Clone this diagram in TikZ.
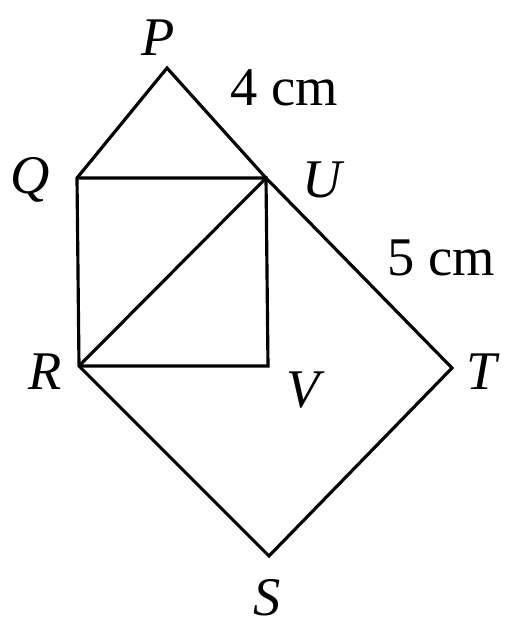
\documentclass[tikz,border=0pt]{standalone}
\usepackage{fontspec}
\setmainfont{Liberation Serif}
\usepackage{tikz}

\tikzset{
    side/.style={line width=1.8pt, line join=miter},
    vlabel/.style={font=\fontsize{31}{32}\selectfont\itshape, inner sep=0pt},
    lenlabel/.style={font=\fontsize{31}{32}\selectfont, inner sep=0pt}
}

\begin{document}
\begin{tikzpicture}[x=0.02cm, y=-0.02cm]
    \useasboundingbox (0,0) rectangle (513,626);

    % Vertices
    \coordinate (P) at (167,68);
    \coordinate (Q) at (77,178);
    \coordinate (U) at (266,178);
    \coordinate (R) at (79,366);
    \coordinate (V) at (268,366);
    \coordinate (T) at (452,368);
    \coordinate (S) at (269,556);

    % Sides
    \draw[side] (Q) -- (P) -- (U) -- (T) -- (S) -- (R) -- cycle;
    \draw[side] (Q) -- (U) -- (V) -- (R);
    \draw[side] (R) -- (U);

    % Labels
    \node[vlabel] (lP) at (158,38) {P};
    \node[vlabel] (lQ) at (30,180) {Q};
    \node[vlabel] (lU) at (322,180) {U};
    \node[vlabel] (lR) at (45,372) {R};
    \node[vlabel] (lV) at (303,390) {V};
    \node[vlabel] (lT) at (482,372) {T};
    \node[vlabel] (lS) at (267,598) {S};
    \node[lenlabel] (l4) at (284,88) {4 cm};
    \node[lenlabel] (l5) at (441,258) {5 cm};
\end{tikzpicture}
\end{document}
